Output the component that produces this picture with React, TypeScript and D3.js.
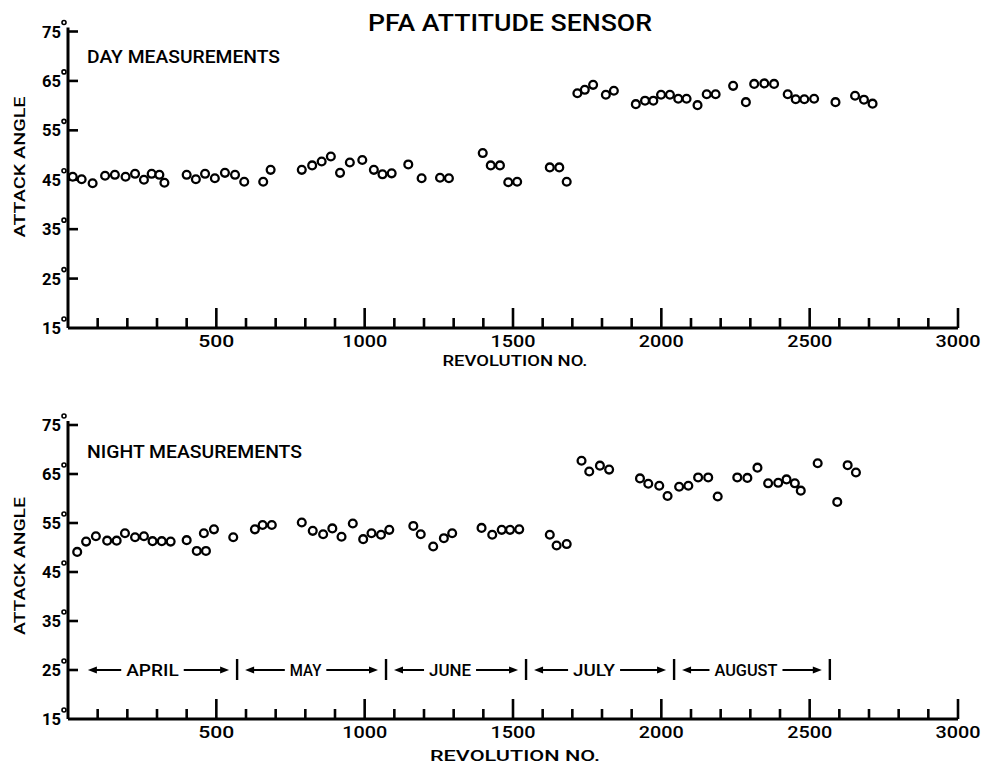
import React from 'react';
import * as d3 from 'd3';

// ---------- DATA ----------
const dayRev = [16, 46, 83, 125, 158, 194, 226, 256, 282, 308, 325, 400, 431, 462, 495, 529, 563, 594, 658, 683,
  788, 823, 855, 886, 917, 950, 992, 1031, 1060, 1091, 1147, 1192, 1254, 1284, 1398, 1425, 1456, 1484, 1514,
  1624, 1656, 1681,
  1717, 1742, 1770, 1813, 1840, 1914, 1945, 1973, 1999, 2029, 2057, 2085, 2122, 2153, 2183, 2242, 2285, 2313,
  2347, 2380, 2426, 2453, 2482, 2515, 2587, 2653, 2683, 2712];
const dayAngle = [45.6, 45.1, 44.3, 45.8, 46.0, 45.6, 46.2, 45.0, 46.2, 46.0, 44.4, 46.0, 45.1, 46.2, 45.3, 46.4, 46.0, 44.6, 44.6, 47.0,
  47.0, 47.9, 48.7, 49.7, 46.4, 48.5, 49.0, 47.0, 46.1, 46.3, 48.1, 45.3, 45.4, 45.3, 50.4, 47.9, 47.9, 44.5, 44.6,
  47.5, 47.5, 44.6,
  62.5, 63.2, 64.2, 62.2, 63.0, 60.3, 61.0, 61.0, 62.2, 62.2, 61.4, 61.4, 60.1, 62.3, 62.3, 64.0, 60.7, 64.4,
  64.5, 64.4, 62.3, 61.3, 61.3, 61.4, 60.7, 62.0, 61.2, 60.4];

const nightRev = [31, 61, 94, 132, 164, 192, 226, 256, 285, 316, 346, 400, 434, 465, 458, 492, 557, 630, 656, 687,
  788, 825, 860, 891, 922, 960, 995, 1023, 1055, 1083, 1164, 1189, 1231, 1267, 1295, 1394, 1430, 1462, 1490, 1521,
  1624, 1647, 1681,
  1731, 1757, 1793, 1824, 1928, 1956, 1993, 2021, 2060, 2091, 2124, 2158, 2190, 2256, 2290, 2324, 2360, 2394,
  2422, 2450, 2470, 2527, 2593, 2628, 2656];
const nightAngle = [49.1, 51.2, 52.3, 51.4, 51.4, 52.9, 52.1, 52.3, 51.3, 51.3, 51.2, 51.5, 49.3, 49.3, 52.9, 53.7, 52.1, 53.7, 54.6, 54.6,
  55.1, 53.4, 52.7, 53.9, 52.2, 54.9, 51.7, 52.9, 52.6, 53.6, 54.4, 52.7, 50.2, 51.9, 52.9, 54.0, 52.6, 53.6, 53.6, 53.7,
  52.6, 50.4, 50.7,
  67.7, 65.5, 66.7, 65.9, 64.1, 63.0, 62.6, 60.5, 62.4, 62.6, 64.3, 64.3, 60.4, 64.3, 64.2, 66.3, 63.1, 63.2,
  63.9, 63.1, 61.6, 67.2, 59.3, 66.8, 65.3];

const yTicks = [15, 25, 35, 45, 55, 65, 75];
const xLabelTicks = [500, 1000, 1500, 2000, 2500, 3000];
const xAllTicks = [100, 200, 300, 400, 500, 600, 700, 800, 900, 1000, 1100, 1200, 1300, 1400, 1500, 1600, 1700, 1800,
  1900, 2000, 2100, 2200, 2300, 2400, 2500, 2600, 2700, 2800, 2900, 3000];
const months = ['APRIL', 'MAY', 'JUNE', 'JULY', 'AUGUST'];
const monthBounds = [40, 570, 1072, 1544, 2043, 2568];

const TITLE = 'PFA  ATTITUDE  SENSOR';
const FONT = "Roboto,'Liberation Sans',Arial,sans-serif";
const FW = 500;

type PanelProps = {
  top: number; bottom: number; rev: number[]; angle: number[]; label: string; labelLen: number;
  labelY: number; axisTitleY: number; axisTitleLen: number; yTitleCenter: number; yTitleLen: number;
  showMonths: boolean;
};

function Panel(p: PanelProps) {
  const x = d3.scaleLinear().domain([0, 3000]).range([68, 958]);
  const y = d3.scaleLinear().domain([15, 75]).range([p.bottom, p.top]);
  const x0 = x(0);
  const y0 = y(15);
  return (
    <g>
      {/* axes */}
      <line x1={x0} x2={x0} y1={y(75) - 4} y2={y0} stroke="#000" strokeWidth={3} />
      <line x1={x0} x2={x(3000)} y1={y0} y2={y0} stroke="#000" strokeWidth={3} />
      {yTicks.filter(t => t > 15).map(t => (
        <line key={'yt' + t} x1={x0} x2={x0 + 10} y1={y(t)} y2={y(t)} stroke="#000" strokeWidth={2.6} />
      ))}
      {yTicks.map(t => (
        <g key={'yl' + t}>
          <text x={x0 - 7} y={y(t) + 6} textAnchor="end" fontFamily={FONT} fontWeight={700} fontSize={17}
            textLength={19} lengthAdjust="spacingAndGlyphs">{t}</text>
          <circle cx={x0 - 4} cy={y(t) - 9} r={2} fill="none" stroke="#000" strokeWidth={1.6} />
        </g>
      ))}
      {xAllTicks.map(t => {
        const major = t % 500 === 0;
        return <line key={'xt' + t} x1={x(t)} x2={x(t)} y1={y0} y2={y0 - (major ? 20 : 10)} stroke="#000" strokeWidth={2.6} />;
      })}
      {xLabelTicks.map(t => (
        <text key={'xl' + t} x={x(t)} y={y0 + 19} textAnchor="middle" fontFamily={FONT} fontWeight={FW} fontSize={17}
          textLength={t >= 1000 ? 45 : 36} lengthAdjust="spacingAndGlyphs">{t}</text>
      ))}
      {/* titles */}
      <text x={87} y={p.labelY} fontFamily={FONT} fontWeight={FW} fontSize={19} textLength={p.labelLen} lengthAdjust="spacingAndGlyphs">{p.label}</text>
      <text x={(x(0) + x(3000)) / 2 + 2} y={p.axisTitleY} textAnchor="middle" fontFamily={FONT} fontWeight={FW} fontSize={15}
        textLength={p.axisTitleLen} lengthAdjust="spacingAndGlyphs">REVOLUTION  NO.</text>
      <text transform={`translate(25,${p.yTitleCenter}) rotate(-90)`} textAnchor="middle" fontFamily={FONT} fontWeight={FW}
        fontSize={15} textLength={p.yTitleLen} lengthAdjust="spacingAndGlyphs">ATTACK  ANGLE</text>
      {/* points */}
      {p.rev.map((r, i) => (
        <circle key={'pt' + i} cx={x(r)} cy={y(p.angle[i])} r={3.9} fill="#fff" stroke="#000" strokeWidth={2.3} />
      ))}
      {p.showMonths && months.map((m, i) => {
        const a = x(monthBounds[i]) + 8;
        const b = x(monthBounds[i + 1]) - 8;
        const yy = y(25);
        const w = m.length * 10.5;
        const c = (a + b) / 2 - 6;
        const l1 = c - w / 2 - 5;
        const r1 = c + w / 2 + 5;
        return (
          <g key={m}>
            <line x1={a + 6} x2={l1} y1={yy} y2={yy} stroke="#000" strokeWidth={2} />
            <path d={`M${a},${yy} L${a + 9},${yy - 3.5} L${a + 9},${yy + 3.5} Z`} fill="#000" />
            <line x1={r1} x2={b - 6} y1={yy} y2={yy} stroke="#000" strokeWidth={2} />
            <path d={`M${b},${yy} L${b - 9},${yy - 3.5} L${b - 9},${yy + 3.5} Z`} fill="#000" />
            <text x={c} y={yy + 6} textAnchor="middle" fontFamily={FONT} fontWeight={FW} fontSize={16}
              textLength={w} lengthAdjust="spacingAndGlyphs">{m}</text>
            <line x1={x(monthBounds[i + 1])} x2={x(monthBounds[i + 1])} y1={yy - 11} y2={yy + 10} stroke="#000" strokeWidth={2.4} />
          </g>
        );
      })}
    </g>
  );
}

export default function App() {
  return (
    <svg width={988} height={766} style={{ position: 'absolute', left: 0, top: 0, background: '#fff' }}>
      <rect width={988} height={766} fill="#fff" />
      <text x={510} y={31} textAnchor="middle" fontFamily={FONT} fontWeight={FW} fontSize={24}
        textLength={284} lengthAdjust="spacingAndGlyphs">{TITLE}</text>
      <Panel top={31.5} bottom={328} rev={dayRev} angle={dayAngle} label="DAY  MEASUREMENTS" labelLen={193} labelY={63}
        axisTitleY={366} axisTitleLen={145} yTitleCenter={167} yTitleLen={141} showMonths={false} />
      <Panel top={425} bottom={719} rev={nightRev} angle={nightAngle} label="NIGHT  MEASUREMENTS" labelLen={215} labelY={458}
        axisTitleY={761} axisTitleLen={170} yTitleCenter={566} yTitleLen={138} showMonths={true} />
    </svg>
  );
}
